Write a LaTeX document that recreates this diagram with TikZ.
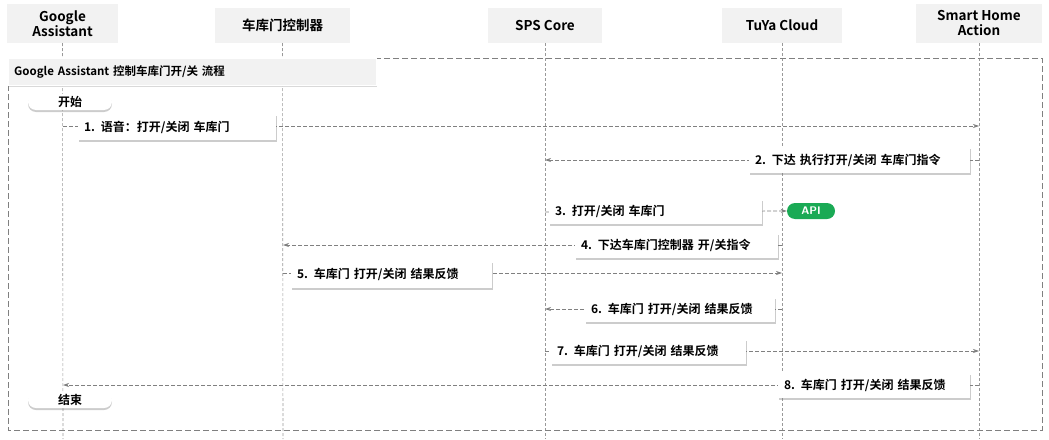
\documentclass[tikz,border=0pt]{standalone}
\usepackage{fontspec}
\setmainfont{Liberation Sans}
\newfontfamily\cjk{Noto Sans CJK SC}[BoldFont={* Bold}]
\usetikzlibrary{shadows,arrows.meta}
\definecolor{hdr}{HTML}{F2F2F2}
\definecolor{ln}{HTML}{808080}
\definecolor{apig}{HTML}{1AAA55}
\tikzset{
 hbox/.style={fill=hdr,inner sep=0pt,align=center,font=\cjk\bfseries\fontsize{13.5}{15}\selectfont},
 life/.style={draw=ln!80,dashed,dash pattern=on 3pt off 2pt,line width=0.6pt},
 msg/.style={draw=ln,dashed,dash pattern=on 4pt off 2pt,line width=0.7pt,-{Stealth[length=6pt,width=4pt]}},
 lbl/.style={fill=white,inner sep=0pt,font=\cjk\bfseries\fontsize{12}{14}\selectfont,drop shadow={shadow xshift=1pt,shadow yshift=-1.5pt,opacity=.4}},
 pill/.style={fill=white,rounded corners=8pt,inner sep=0pt,font=\cjk\bfseries\fontsize{12}{14}\selectfont,drop shadow={shadow xshift=0pt,shadow yshift=-2pt,opacity=.4}},
}
\begin{document}
\begin{tikzpicture}[x=1pt,y=-1pt]
\useasboundingbox (0,0) rectangle (1049,439);
% headers
\node[hbox,minimum width=111,minimum height=39] (ga) at (62.5,23.5) {Google\\Assistant};
\node[hbox,minimum width=135,minimum height=35] (gc) at (282.5,25.5) {车库门控制器};
\node[hbox,minimum width=114,minimum height=35] (sps) at (545,25.5) {SPS Core};
\node[hbox,minimum width=120,minimum height=35] (ty) at (782,25.5) {TuYa Cloud};
\node[hbox,minimum width=126,minimum height=39] (sh) at (979,23.5) {Smart Home\\Action};
% lifelines
\foreach \n/\x in {ga/63,gc/283,sps/545,ty/782,sh/979}{
 \coordinate (\n b) at (\x,439);
 \draw[life] (\n.south) -- (\n b);
}
% frame
\draw[ln,dashed,dash pattern=on 6pt off 3pt,line width=0.8pt] (8,58) rectangle (1042,430);
\node[fill=hdr,draw=white,inner sep=0pt,minimum width=368,minimum height=27,anchor=north west,
 font=\cjk\bfseries\fontsize{11.5}{13}\selectfont,text width=356,align=left,drop shadow={shadow xshift=1pt,shadow yshift=-1.5pt,opacity=.3}] (title) at (8,58) {Google Assistant 控制车库门开/关 流程};
% start/end
\node[pill,minimum width=84,minimum height=16] (start) at (70,102) {开始};
\node[pill,minimum width=84,minimum height=16] (end) at (70,400) {结束};
% API
\node[fill=apig,rounded corners=8pt,inner sep=0pt,minimum width=48,minimum height=16,text=white,font=\sffamily\bfseries\fontsize{11}{12}\selectfont] (api) at (811,211) {API};
% coordinates on lifelines
\foreach \n/\x in {ga/63,gc/283,sps/545,ty/782,sh/979}{
 \foreach \i/\y in {1/126,2/160,3/212,4/245,5/273,6/309,7/351,8/385}{
  \coordinate (\n\i) at (\x,\y);
 }
}
\draw[msg] (ga1) -- (sh1);
\draw[msg] (sh2) -- (sps2);
\draw[msg] (sps3) -- (api.west);
\draw[msg] (ty4) -- (gc4);
\draw[msg] (gc5) -- (ty5);
\draw[msg] (ty6) -- (sps6);
\draw[msg] (sps7) -- (sh7);
\draw[msg] (sh8) -- (ga8);
% labels
\node[lbl,minimum width=198,minimum height=26,text width=186] (l1) at (177,127) {1. 语音：打开/关闭 车库门};
\node[lbl,minimum width=221,minimum height=26,text width=209] (l2) at (859.5,160) {2. 下达 执行打开/关闭 车库门指令};
\node[lbl,minimum width=213,minimum height=25,text width=201] (l3) at (655.5,211.5) {3. 打开/关闭 车库门};
\node[lbl,minimum width=203,minimum height=25,text width=191] (l4) at (676.5,245.5) {4. 下达车库门控制器 开/关指令};
\node[lbl,minimum width=201,minimum height=27,text width=189] (l5) at (391.5,274.5) {5. 车库门 打开/关闭 结果反馈};
\node[lbl,minimum width=190,minimum height=25,text width=178] (l6) at (680,309.5) {6. 车库门 打开/关闭 结果反馈};
\node[lbl,minimum width=195,minimum height=25,text width=183] (l7) at (648.5,351.5) {7. 车库门 打开/关闭 结果反馈};
\node[lbl,minimum width=192,minimum height=25,text width=180] (l8) at (874,385.5) {8. 车库门 打开/关闭 结果反馈};
\end{tikzpicture}
\end{document}
